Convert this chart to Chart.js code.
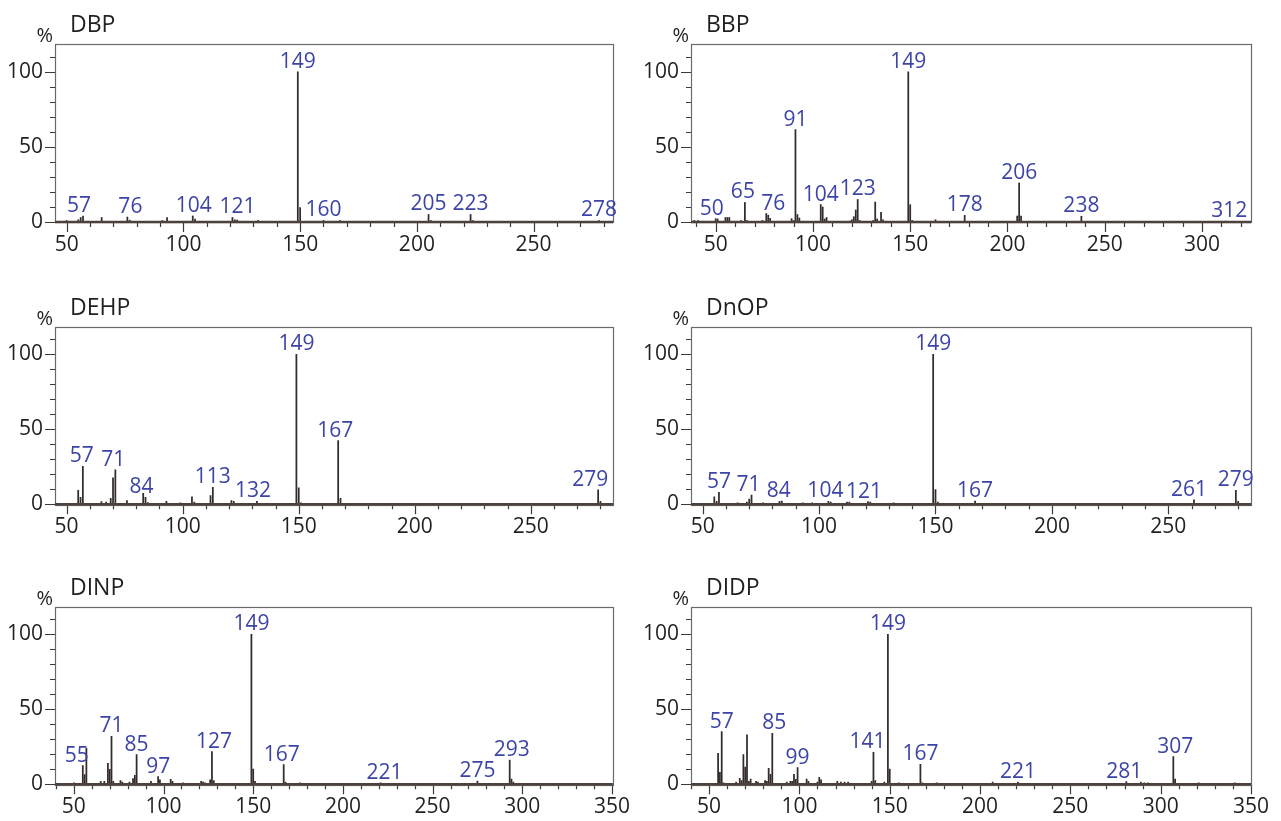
<!DOCTYPE html>
<html>
<head>
<meta charset="utf-8">
<script src="https://cdn.jsdelivr.net/npm/chart.js@4.4.0/dist/chart.umd.min.js"></script>
<style>
  body { margin: 0; background: #fff; width: 1281px; height: 821px; overflow: hidden; position: relative; }
  canvas { position: absolute; }
</style>
</head>
<body>
<canvas id="dbp"  width="640" height="270" style="left:0;top:0"></canvas>
<canvas id="bbp"  width="641" height="270" style="left:640px;top:0"></canvas>
<canvas id="dehp" width="640" height="270" style="left:0;top:280px"></canvas>
<canvas id="dnop" width="641" height="270" style="left:640px;top:280px"></canvas>
<canvas id="dinp" width="640" height="261" style="left:0;top:560px"></canvas>
<canvas id="didp" width="641" height="261" style="left:640px;top:560px"></canvas>
<script>
// spectra: m/z and relative intensity (%)
const dbpMz  = [50, 55, 56, 57, 65, 76, 77, 91, 93, 104, 105, 121, 122, 123, 132, 149, 150, 160, 167, 205, 206, 223, 224, 278];
const dbpPct = [1, 1.5, 3, 4, 3, 3.3, 1.2, 1, 3, 4, 2, 3, 1.5, 1.2, 1, 100, 9.6, 1, 1, 5, 1, 5, 1, 1];
const dbpLabels = [57, 76, 104, 121, 149, 160, 205, 223, 278];

const bbpMz  = [39, 41, 50, 51, 55, 56, 57, 63, 65, 66, 74, 76, 77, 78, 89, 90, 91, 92, 93, 104, 105, 106, 107, 119, 120, 121, 122, 123, 124, 131, 132, 133, 135, 136, 149, 150, 151, 163, 178, 205, 206, 207, 238, 312];
const bbpPct = [1, 1, 2.2, 2, 3, 3, 3, 1, 13, 1, 1, 5.6, 4.5, 2.4, 2.2, 1, 61.5, 5, 2.7, 11.6, 10, 2, 3, 0.6, 1.5, 3.5, 8, 15, 1, 1, 13.3, 2, 6.4, 1.5, 100, 11.5, 1, 1.5, 4.4, 4, 26, 4, 3.8, 0.6];
const bbpLabels = [50, 65, 76, 91, 104, 123, 149, 178, 206, 238, 312];

const dehpMz  = [55, 56, 57, 65, 67, 69, 70, 71, 76, 83, 84, 85, 93, 99, 104, 105, 112, 113, 121, 122, 132, 149, 150, 151, 167, 168, 279, 280];
const dehpPct = [9.3, 4.7, 25.3, 1.8, 1.5, 4, 17.6, 22.9, 2.4, 7.3, 4.7, 1.2, 2, 1, 4.9, 1.5, 5.8, 11.3, 2.4, 2, 2, 100, 11, 1, 42.4, 4, 9.6, 2];
const dehpLabels = [57, 71, 84, 113, 132, 149, 167, 279];

const dnopMz  = [55, 56, 57, 65, 69, 70, 71, 76, 83, 84, 93, 97, 104, 105, 112, 113, 121, 122, 132, 149, 150, 151, 167, 261, 279, 280];
const dnopPct = [4.9, 2, 8, 1, 1.5, 3.5, 6.2, 1, 2, 2.2, 1, 1, 2, 1.5, 1.5, 1.5, 1.8, 1.5, 1, 100, 9.8, 1.5, 2.2, 2.9, 9.3, 2];
const dnopLabels = [57, 71, 84, 104, 121, 149, 167, 261, 279];

const dinpMz  = [50, 55, 56, 57, 65, 67, 69, 70, 71, 72, 76, 77, 81, 83, 84, 85, 93, 97, 98, 104, 105, 111, 121, 122, 123, 126, 127, 128, 149, 150, 151, 167, 168, 176, 221, 275, 293, 294, 295];
const dinpPct = [1, 12.4, 6.5, 24, 2, 2, 14, 10, 32, 2, 2.5, 1.5, 1.5, 3.8, 6, 19.8, 2, 5.1, 3, 3.3, 2, 1, 2, 1.5, 1, 3, 21.8, 2.5, 100, 10.2, 2, 13.1, 1.5, 1, 1, 2.2, 16.2, 3.5, 1.5];
const dinpLabels = [55, 71, 85, 97, 127, 149, 167, 221, 275, 293];

const didpMz  = [55, 56, 57, 58, 65, 67, 68, 69, 70, 71, 72, 73, 76, 77, 81, 82, 83, 84, 85, 93, 95, 96, 97, 98, 99, 104, 105, 110, 111, 112, 121, 123, 125, 127, 140, 141, 142, 147, 149, 150, 155, 167, 168, 176, 207, 221, 281, 289, 291, 293, 307, 308, 321, 341];
const didpPct = [20.7, 8, 35.1, 1, 1.5, 4, 2.5, 19.8, 11.5, 32.9, 2, 3.5, 2, 1.5, 2.5, 2, 10.7, 6.7, 34, 1.5, 2, 2, 6.7, 3.3, 11.1, 3.5, 2, 1.5, 4.7, 3, 2, 1.5, 1.5, 1.5, 2, 21.3, 2.5, 1.5, 100, 10.2, 1, 13.3, 1, 1, 1.5, 1.5, 1.8, 1.5, 1, 1, 18.4, 3.5, 1, 1];
const didpLabels = [57, 85, 99, 141, 149, 167, 221, 281, 307];

const FONT = "'Open Sans', 'Noto Sans', sans-serif";
const TEXT = '#231f20';
const BLUE = '#3c45a5';

// draws frame, tick marks, baseline, title, "%" and the peak labels
const spectrumDecor = {
  id: 'spectrumDecor',
  afterDraw(chart, args, opts) {
    const { ctx, chartArea: a, scales: { x, y } } = chart;
    ctx.save();

    // tick marks (major every 50, minor every 10)
    ctx.strokeStyle = '#3a3a3a';
    ctx.lineWidth = 1.2;
    ctx.beginPath();
    x.ticks.forEach(t => {
      const px = Math.round(x.getPixelForValue(t.value)) + 0.5;
      const len = t.value % 50 === 0 ? 10 : 5;
      ctx.moveTo(px, a.bottom);
      ctx.lineTo(px, a.bottom + len);
    });
    y.ticks.forEach(t => {
      const py = Math.round(y.getPixelForValue(t.value)) + 0.5;
      const len = t.value % 50 === 0 ? 10 : 5;
      ctx.moveTo(a.left, py);
      ctx.lineTo(a.left - len, py);
    });
    ctx.stroke();

    // frame
    ctx.strokeStyle = '#6a6a6a';
    ctx.lineWidth = 1.2;
    ctx.strokeRect(Math.round(a.left) + 0.5, Math.round(a.top) + 0.5, Math.round(a.width), Math.round(a.height));

    // baseline
    const y0 = y.getPixelForValue(0);
    ctx.strokeStyle = '#4d413c';
    ctx.lineWidth = 2.6;
    ctx.beginPath();
    ctx.moveTo(a.left, y0);
    ctx.lineTo(a.right, y0);
    ctx.stroke();

    // title and unit
    ctx.fillStyle = TEXT;
    ctx.textBaseline = 'alphabetic';
    ctx.font = '23px ' + FONT;
    ctx.textAlign = 'left';
    ctx.fillText(opts.title, a.left + 15, a.top - 12);
    ctx.font = '20px ' + FONT;
    ctx.textAlign = 'right';
    ctx.fillText('%', a.left - 2, a.top - 2);

    // peak labels
    const mz = opts.mz, pct = opts.pct, nudge = opts.nudge || {};
    ctx.fillStyle = BLUE;
    ctx.font = '21px ' + FONT;
    ctx.textAlign = 'center';
    opts.labels.forEach(m => {
      const i = mz.indexOf(m);
      const v = i >= 0 ? pct[i] : 0;
      ctx.fillText(String(m), x.getPixelForValue(m) + (nudge[m] || 0), y.getPixelForValue(v) - 4);
    });
    ctx.restore();
  }
};

function makeSpectrum(id, title, mz, pct, labels, nudge, xMin, xMax, yWidth, padRight, padTop, padBottom) {
  return new Chart(document.getElementById(id), {
    type: 'bar',
    data: {
      datasets: [{
        data: mz.map((m, i) => ({ x: m, y: pct[i] })),
        backgroundColor: '#342c2c',
        borderWidth: 0,
        barThickness: 1.1,
      }]
    },
    options: {
      responsive: false,
      animation: false,
      layout: { padding: { left: 0, right: padRight, top: padTop, bottom: padBottom } },
      plugins: {
        legend: { display: false },
        tooltip: { enabled: false },
        spectrumDecor: { title: title, mz: mz, pct: pct, labels: labels, nudge: nudge }
      },
      scales: {
        x: {
          type: 'linear',
          min: xMin,
          max: xMax,
          offset: false,
          grid: { display: false, drawTicks: false, offset: false },
          border: { display: false },
          ticks: {
            stepSize: 10,
            includeBounds: false,
            autoSkip: false,
            maxTicksLimit: 100,
            maxRotation: 0,
            padding: 10,
            color: TEXT,
            font: { family: FONT, size: 21 },
            callback: v => (v % 50 === 0 ? String(v) : '')
          },
          afterFit: s => { s.height = 30; }
        },
        y: {
          min: 0,
          max: 118.5,
          grid: { display: false, drawTicks: false },
          border: { display: false },
          ticks: {
            stepSize: 10,
            includeBounds: false,
            autoSkip: false,
            padding: 12,
            color: TEXT,
            font: { family: FONT, size: 21 },
            callback: v => (v % 50 === 0 ? String(v) : '')
          },
          afterFit: s => { s.width = yWidth; }
        }
      }
    },
    plugins: [spectrumDecor]
  });
}

makeSpectrum('dbp',  'DBP',  dbpMz,  dbpPct,  dbpLabels,  { 57: -4, 76: 3, 104: 1, 121: 5 },
  45, 284, 55, 27, 44, 18);
makeSpectrum('bbp',  'BBP',  bbpMz,  bbpPct,  bbpLabels,  { 50: -4, 65: -2, 76: 7, 312: 4 },
  37.3, 325.2, 51, 30, 44, 18);
makeSpectrum('dehp', 'DEHP', dehpMz, dehpPct, dehpLabels, { 57: -1, 71: -2, 84: -4, 132: -4, 167: -3, 279: -8 },
  45, 285.4, 55, 27, 46.5, 15.7);
makeSpectrum('dnop', 'DnOP', dnopMz, dnopPct, dnopLabels, { 71: -3, 84: -3, 104: -3, 121: -4, 261: -5 },
  45, 285.5, 51, 30, 46.5, 15.7);
makeSpectrum('dinp', 'DINP', dinpMz, dinpPct, dinpLabels, { 55: -6, 127: 2, 167: -2, 221: 4, 293: 2 },
  39.5, 350.5, 55, 27, 46.5, 6.7);
makeSpectrum('didp', 'DIDP', didpMz, didpPct, didpLabels, { 85: 2, 141: -6, 281: -2, 307: 2 },
  40, 350, 51, 30, 46.5, 6.7);
</script>
</body>
</html>
